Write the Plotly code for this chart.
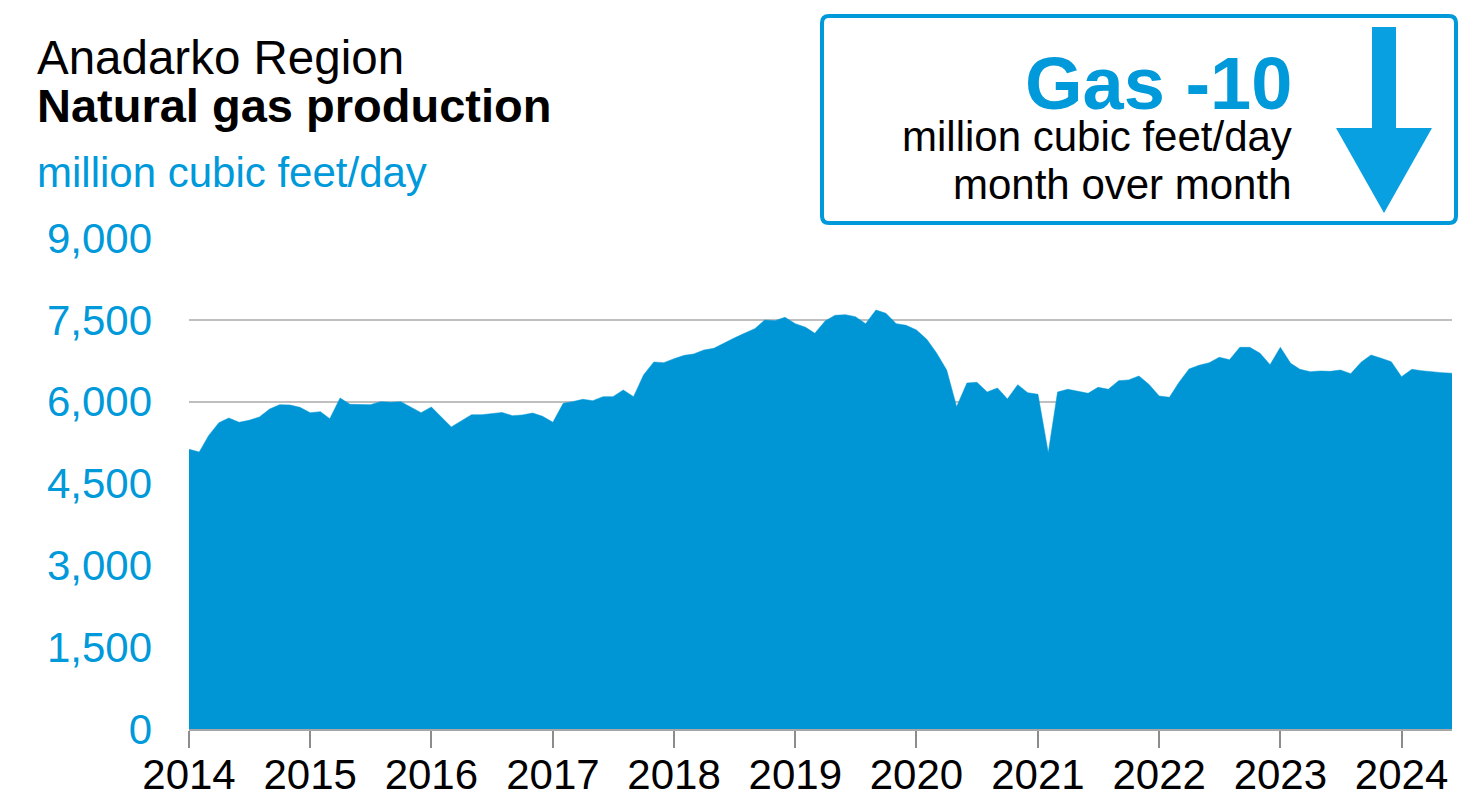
import pandas as pd
import plotly.graph_objects as go

# ---- data -------------------------------------------------------------
start_month = "2014-01-01"
gas_production = [
    # 2014
    5127, 5077, 5377, 5615, 5700, 5621, 5658, 5719, 5866, 5945, 5939, 5896,
    # 2015
    5798, 5817, 5688, 6067, 5951, 5945, 5945, 6000, 5988, 6000, 5896, 5798,
    # 2016
    5902, 5719, 5536, 5651, 5761, 5761, 5780, 5802, 5744, 5756, 5792, 5731,
    # 2017
    5621, 5970, 6000, 6043, 6018, 6092, 6092, 6214, 6092, 6489, 6727, 6715,
    # 2018
    6788, 6849, 6874, 6947, 6978, 7081, 7167, 7253, 7338, 7497, 7485, 7546,
    # 2019
    7430, 7363, 7253, 7479, 7583, 7595, 7558, 7430, 7680, 7619, 7430, 7399,
    # 2020
    7314, 7143, 6898, 6581, 5908, 6342, 6355, 6177, 6251, 6049, 6312, 6165,
    # 2021
    6135, 5065, 6177, 6227, 6196, 6153, 6263, 6227, 6385, 6398, 6471, 6318,
    # 2022
    6104, 6080, 6348, 6599, 6666, 6715, 6813, 6770, 6996, 6996, 6886, 6678,
    # 2023
    6996, 6703, 6593, 6550, 6562, 6556, 6581, 6513, 6721, 6855, 6795, 6733,
    # 2024
    6458, 6593, 6568, 6544, 6532, 6522,
]
months = pd.date_range(start_month, periods=len(gas_production), freq="MS")
y_ticks = [0, 1500, 3000, 4500, 6000, 7500, 9000]
title_line1 = "Anadarko Region"
title_line2 = "Natural gas production"
units_label = "million cubic feet/day"
box_big = "Gas -10"
box_line1 = "million cubic feet/day"
box_line2 = "month over month"

# ---- styling ----------------------------------------------------------
# page has an 8px body margin, so the figure is drawn 8px smaller
OFF = 8
W, H = 1473 - OFF, 797 - OFF
L, R, T, B = 189 - OFF, 21, 238 - OFF, 68
PW, PH = 1263, 491
BLUE = "#0096D6"
TXT_BLUE = "#0099DA"
ARROW_BLUE = "#08A0E0"
FONT = "Liberation Sans, Arial, sans-serif"


def px(x):
    # x in reference page pixels -> paper coords
    return (x - 189) / PW


def py(y):
    return (729 - y) / PH


fig = go.Figure()
fig.add_trace(go.Scatter(
    x=months, y=gas_production, mode="lines", fill="tozeroy",
    fillcolor=BLUE, line=dict(color=BLUE, width=0.5), hoverinfo="x+y",
    showlegend=False,
))

fig.update_layout(
    width=W, height=H,
    margin=dict(l=L, r=R, t=T, b=B, pad=0, autoexpand=False),
    paper_bgcolor="white", plot_bgcolor="white",
    font=dict(family=FONT),
    xaxis=dict(
        range=[months[0], months[-1]], automargin=False,
        tickmode="linear", tick0="2014-01-01", dtick="M12", tickformat="%Y",
        ticks="outside", ticklen=17, tickwidth=1.5, tickcolor="#8C8C8C",
        showline=True, linecolor="#A6A6A6", linewidth=1.5,
        showgrid=False, zeroline=False,
        ticklabelstandoff=-9,
        tickfont=dict(size=42, color="black", family=FONT),
    ),
    yaxis=dict(
        range=[0, 9000], tickvals=y_ticks, tickformat=",", automargin=False,
        showgrid=True, gridcolor="#BFBFBF", gridwidth=1.8,
        zeroline=False, showline=False, ticks="",
        ticklabelstandoff=36,
        tickfont=dict(size=42, color=TXT_BLUE, family=FONT),
    ),
)

annotations = [
    dict(text=title_line1, x=px(35), y=py(57), size=47.5, color="black", bold=False, anchor="left"),
    dict(text=title_line2, x=px(35), y=py(106), size=47, color="black", bold=True, anchor="left"),
    dict(text=units_label, x=px(35), y=py(172), size=42, color=TXT_BLUE, bold=False, anchor="left"),
    dict(text=box_big, x=px(1294), y=py(83), size=74, color=TXT_BLUE, bold=True, anchor="right"),
    dict(text=box_line1, x=px(1294), y=py(137), size=42, color="black", bold=False, anchor="right"),
    dict(text=box_line2, x=px(1294), y=py(185), size=42, color="black", bold=False, anchor="right"),
]
for a in annotations:
    txt = f"<b>{a['text']}</b>" if a["bold"] else a["text"]
    fig.add_annotation(
        text=txt, xref="paper", yref="paper", x=a["x"], y=a["y"],
        xanchor=a["anchor"], yanchor="middle", showarrow=False,
        font=dict(size=a["size"], color=a["color"], family=FONT),
    )

# rounded box
x0, x1, y0, y1, r = 822, 1456, 16, 223, 7
path = (
    f"M {px(x0 + r)} {py(y0)} L {px(x1 - r)} {py(y0)} "
    f"Q {px(x1)} {py(y0)} {px(x1)} {py(y0 + r)} "
    f"L {px(x1)} {py(y1 - r)} Q {px(x1)} {py(y1)} {px(x1 - r)} {py(y1)} "
    f"L {px(x0 + r)} {py(y1)} Q {px(x0)} {py(y1)} {px(x0)} {py(y1 - r)} "
    f"L {px(x0)} {py(y0 + r)} Q {px(x0)} {py(y0)} {px(x0 + r)} {py(y0)} Z"
)
fig.add_shape(type="path", path=path, xref="paper", yref="paper",
              line=dict(color=TXT_BLUE, width=4), fillcolor="rgba(0,0,0,0)")

# down arrow
arrow_pts = [(1372, 27), (1396, 27), (1396, 128), (1432, 128), (1384, 213),
             (1336, 128), (1372, 128)]
apath = "M " + " L ".join(f"{px(x)} {py(y)}" for x, y in arrow_pts) + " Z"
fig.add_shape(type="path", path=apath, xref="paper", yref="paper",
              line=dict(width=0), fillcolor=ARROW_BLUE)

fig.write_html("out.html")
